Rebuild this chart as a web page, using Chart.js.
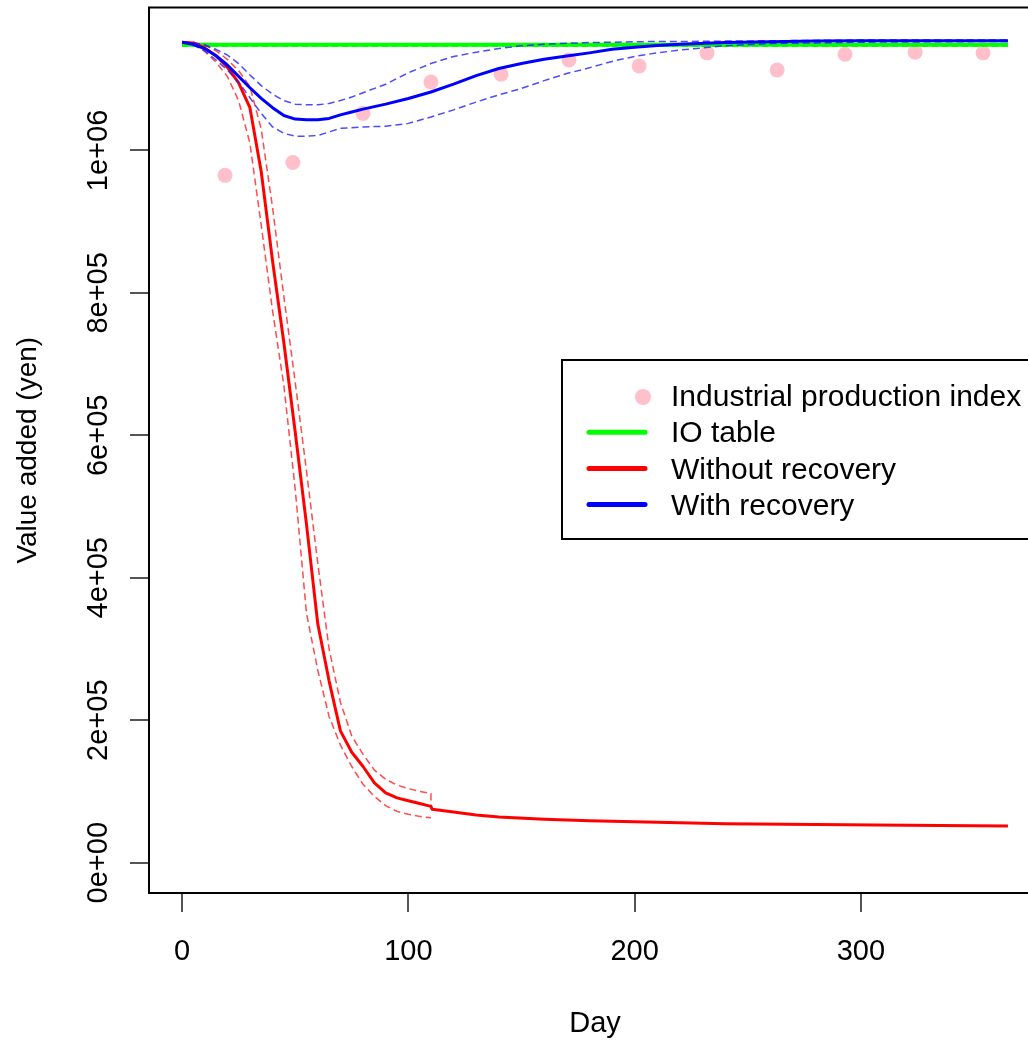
<!DOCTYPE html>
<html>
<head>
<meta charset="utf-8">
<script src="https://cdn.jsdelivr.net/npm/chart.js"></script>
<style>
html,body{margin:0;padding:0;background:#fff;overflow:hidden;width:1028px;height:1042px;}
#wrap{position:absolute;left:0;top:0;width:1060px;height:1042px;}
</style>
</head>
<body>
<div id="wrap"><canvas id="c" width="1060" height="1042"></canvas></div>
<script>
// ---------- data ----------
const xTickValues = [0, 100, 200, 300];
const yTickValues = [0, 200000, 400000, 600000, 800000, 1000000];
const yTickLabels = ["0e+00", "2e+05", "4e+05", "6e+05", "8e+05", "1e+06"];
const legendLabels = ["Industrial production index", "IO table", "Without recovery", "With recovery"];

// Industrial production index (pink points)
const ipiDays   = [19, 49, 80, 110, 141, 171, 202, 232, 263, 293, 324, 354];
const ipiValues = [965000, 983000, 1052000, 1096000, 1107000, 1127000, 1118500, 1137000, 1113000, 1135000, 1138000, 1137000];

// IO table (green)
const ioDays     = [0, 365];
const ioValues   = [1148500, 1148500];
const ioCIValues = [1146800, 1146800];

// Without recovery (red)
const noRecDays   = [0, 5, 10, 15, 20, 25, 30, 35, 40, 45, 50, 55, 60, 65, 70, 75, 80, 85, 90, 95, 100, 105, 110, 110.5, 120, 130, 140, 160, 180, 200, 240, 280, 320, 365];
const noRecValues = [1152000, 1151000, 1144000, 1133000, 1117000, 1095000, 1060000, 970000, 845000, 730000, 605000, 475000, 335000, 255000, 185000, 155000, 135000, 112000, 98000, 91000, 87000, 83000, 79000, 75000, 71000, 67000, 64000, 61000, 59000, 57500, 54500, 53500, 52500, 51500];
const noRecCIDays = [0, 5, 10, 15, 20, 25, 30, 35, 40, 45, 50, 55, 60, 65, 70, 75, 80, 85, 90, 95, 100, 105, 110, 110];
const noRecUpper  = [1152000, 1152000, 1148000, 1140000, 1128000, 1112000, 1090000, 1030000, 920000, 795000, 675000, 550000, 420000, 300000, 225000, 178000, 152000, 130000, 117000, 109000, 104000, 100000, 97000, 80000];
const noRecLower  = [1152000, 1149000, 1139000, 1124000, 1104000, 1070000, 1010000, 895000, 775000, 670000, 525000, 350000, 270000, 205000, 165000, 135000, 110000, 93000, 80000, 72000, 68000, 65000, 63000, 63000];

// With recovery (blue)
const recDays   = [0, 5, 10, 15, 20, 25, 30, 35, 40, 45, 50, 55, 60, 65, 70, 75, 80, 90, 100, 110, 120, 130, 140, 150, 160, 170, 180, 190, 200, 210, 220, 240, 260, 280, 300, 330, 365];
const recValues = [1152000, 1149000, 1143000, 1133000, 1120000, 1104000, 1088000, 1073000, 1060000, 1049000, 1044000, 1043000, 1043000, 1045000, 1050000, 1054000, 1058000, 1065000, 1073000, 1082000, 1093000, 1105000, 1115000, 1122000, 1128000, 1132500, 1137000, 1142000, 1145000, 1147500, 1149000, 1151500, 1152500, 1153500, 1154000, 1154000, 1154000];
const recUpper  = [1152000, 1151000, 1148000, 1142000, 1134000, 1122000, 1106000, 1091000, 1079000, 1070000, 1065000, 1064000, 1064000, 1066000, 1070000, 1075000, 1081000, 1093000, 1109000, 1122000, 1132000, 1138000, 1143000, 1147000, 1149000, 1150500, 1151500, 1152000, 1152500, 1153000, 1153000, 1153500, 1154000, 1154500, 1155000, 1155000, 1155000];
const recLower  = [1152000, 1148000, 1140000, 1127000, 1113000, 1096000, 1074000, 1052000, 1033000, 1024000, 1020000, 1020000, 1021000, 1026000, 1031000, 1032000, 1033000, 1034000, 1038000, 1047000, 1057000, 1068000, 1078000, 1087000, 1098000, 1108000, 1116000, 1125000, 1132000, 1137000, 1141000, 1147000, 1150000, 1151000, 1152000, 1152500, 1153000];

// ---------- chart ----------
const FONT = "'Liberation Sans', Arial, Helvetica, sans-serif";
const C_BLUE = '#0000FF', C_RED = '#FF0000', C_GREEN = '#00FF00', C_PINK = '#FFC0CB';

function pts(d, v) { return d.map((x, i) => ({ x: x, y: v[i] })); }
function lineDs(label, d, v, color, width, dash) {
  return { label: label, data: pts(d, v), borderColor: color, backgroundColor: color,
           borderWidth: width, borderDash: dash || [], pointRadius: 0, pointHoverRadius: 0,
           fill: false, tension: 0, showLine: true, borderCapStyle: 'butt', borderJoinStyle: 'round' };
}

const datasets = [
  lineDs(legendLabels[3], recDays, recValues, C_BLUE, 3),
  lineDs(legendLabels[3] + ' (upper)', recDays, recUpper, 'rgba(30,30,255,0.8)', 1.5, [7, 4]),
  lineDs(legendLabels[3] + ' (lower)', recDays, recLower, 'rgba(30,30,255,0.8)', 1.5, [7, 4]),
  lineDs(legendLabels[2], noRecDays, noRecValues, C_RED, 3),
  lineDs(legendLabels[2] + ' (upper)', noRecCIDays, noRecUpper, 'rgba(255,30,30,0.8)', 1.5, [7, 4]),
  lineDs(legendLabels[2] + ' (lower)', noRecCIDays, noRecLower, 'rgba(255,30,30,0.8)', 1.5, [7, 4]),
  lineDs(legendLabels[1], ioDays, ioValues, C_GREEN, 4),
  lineDs(legendLabels[1] + ' (CI)', ioDays, ioCIValues, C_GREEN, 2, [6, 4]),
  { label: legendLabels[0], data: pts(ipiDays, ipiValues), showLine: false,
    pointRadius: 7.5, pointHoverRadius: 7.5, pointBackgroundColor: C_PINK, pointBorderWidth: 0,
    borderColor: C_PINK, backgroundColor: C_PINK }
];

const boxPlugin = {
  id: 'rBox',
  afterDatasetsDraw(chart) {
    const a = chart.chartArea, ctx = chart.ctx;
    ctx.save();
    ctx.lineWidth = 2;
    ctx.strokeStyle = '#000';
    ctx.strokeRect(a.left, a.top, a.right - a.left, a.bottom - a.top);
    ctx.restore();
  }
};

const legendPlugin = {
  id: 'rLegend',
  afterDraw(chart) {
    const ctx = chart.ctx;
    ctx.save();
    const bx = 562, by = 360, bw = 500, bh = 179;
    ctx.fillStyle = '#fff';
    ctx.fillRect(bx, by, bw, bh);
    ctx.lineWidth = 2;
    ctx.strokeStyle = '#000';
    ctx.strokeRect(bx, by, bw, bh);
    const items = [
      { text: legendLabels[0], type: 'point', color: C_PINK },
      { text: legendLabels[1], type: 'line', color: C_GREEN },
      { text: legendLabels[2], type: 'line', color: C_RED },
      { text: legendLabels[3], type: 'line', color: C_BLUE }
    ];
    ctx.font = '30px ' + FONT;
    ctx.textBaseline = 'middle';
    ctx.textAlign = 'left';
    items.forEach((it, i) => {
      const yc = 398 + i * 36.2;
      if (it.type === 'point') {
        ctx.fillStyle = it.color;
        ctx.beginPath();
        ctx.arc(643, yc - 1, 8, 0, Math.PI * 2);
        ctx.fill();
      } else {
        ctx.strokeStyle = it.color;
        ctx.lineWidth = 5;
        ctx.lineCap = 'round';
        ctx.beginPath();
        ctx.moveTo(589, yc - 2);
        ctx.lineTo(645, yc - 2);
        ctx.stroke();
      }
      ctx.fillStyle = '#000';
      ctx.fillText(it.text, 671, yc);
    });
    ctx.restore();
  }
};

new Chart(document.getElementById('c'), {
  type: 'line',
  data: { datasets: datasets },
  plugins: [boxPlugin, legendPlugin],
  options: {
    responsive: false,
    animation: false,
    devicePixelRatio: 1,
    layout: { padding: { top: 5, right: 19, bottom: 0, left: 0 } },
    plugins: { legend: { display: false }, tooltip: { enabled: false } },
    events: [],
    scales: {
      x: {
        type: 'linear', position: 'bottom',
        min: -14.6, max: 379.6,
        afterBuildTicks: (s) => { s.ticks = xTickValues.map(v => ({ value: v })); },
        afterFit: (s) => { s.height = 149; s.paddingLeft = 0; s.paddingRight = 0; },
        ticks: { font: { family: FONT, size: 29 }, color: '#000', padding: 23, maxRotation: 0, minRotation: 0, autoSkip: false,
                 callback: (v) => String(v) },
        grid: { drawOnChartArea: false, drawTicks: true, tickLength: 19, color: '#555', lineWidth: 2 },
        border: { display: false },
        title: { display: true, text: 'Day', color: '#000', font: { family: FONT, size: 29 }, padding: { top: 0, bottom: 1 } }
      },
      y: {
        type: 'linear', position: 'left',
        min: -42600, max: 1200700,
        afterBuildTicks: (s) => { s.ticks = yTickValues.map(v => ({ value: v })); },
        afterFit: (s) => { s.width = 149; s.paddingTop = 0; s.paddingBottom = 0; },
        ticks: { font: { family: FONT, size: 29 }, color: '#000', padding: -10, minRotation: 90, maxRotation: 90,
                 crossAlign: 'center', autoSkip: false,
                 callback: (v) => yTickLabels[yTickValues.indexOf(v)] },
        grid: { drawOnChartArea: false, drawTicks: true, tickLength: 19, color: '#555', lineWidth: 2 },
        border: { display: false },
        title: { display: true, text: 'Value added (yen)', color: '#000', font: { family: FONT, size: 28 }, padding: { top: 11, bottom: 0 } }
      }
    }
  }
});
</script>
</body>
</html>
